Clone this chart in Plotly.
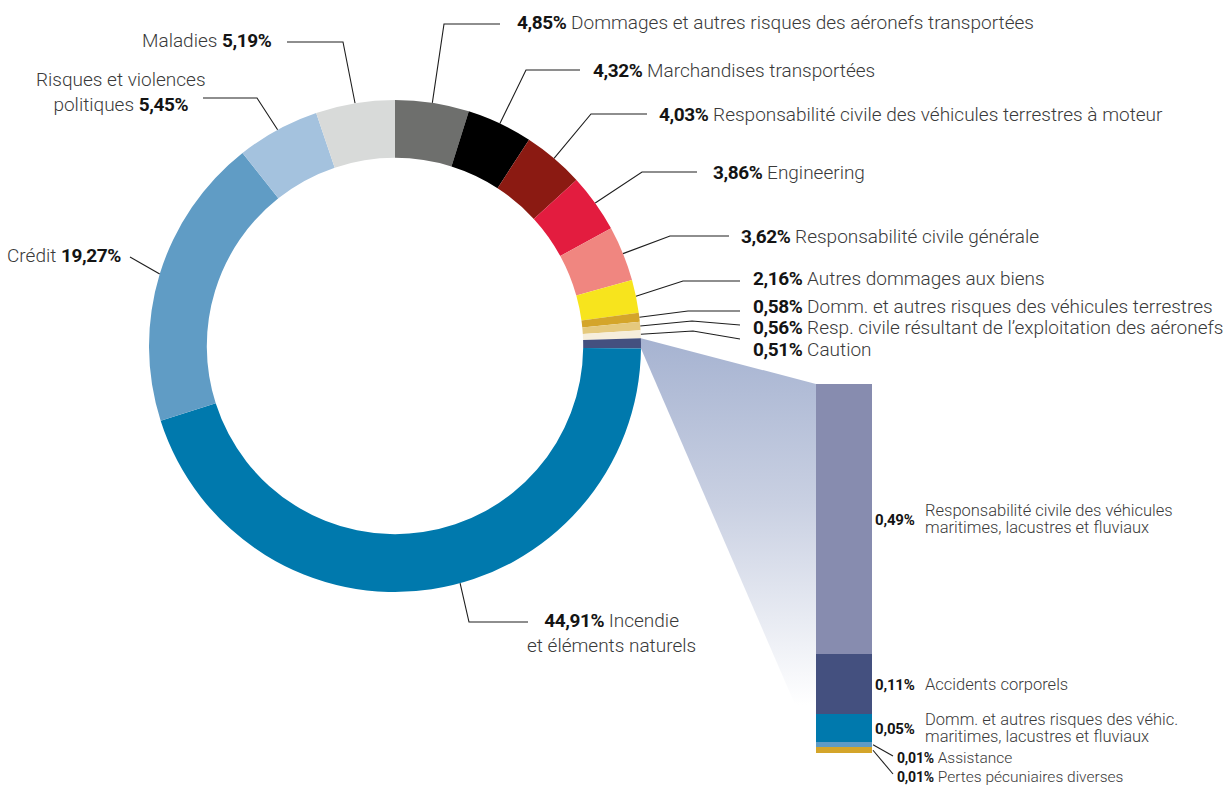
import math
import plotly.graph_objects as go

W, H = 1226, 787          # browser window = figure size (body margin removed below)

# ---------------- data ----------------
pie_labels = [
    "Dommages et autres risques des aéronefs transportées",
    "Marchandises transportées",
    "Responsabilité civile des véhicules terrestres à moteur",
    "Engineering",
    "Responsabilité civile générale",
    "Autres dommages aux biens",
    "Domm. et autres risques des véhicules terrestres",
    "Resp. civile résultant de l’exploitation des aéronefs",
    "Caution",
    "Autres",
    "Incendie et éléments naturels",
    "Crédit",
    "Risques et violences politiques",
    "Maladies",
]
main_values = [4.85, 4.32, 4.03, 3.86, 3.62, 2.16, 0.58, 0.56, 0.51, None, 44.91, 19.27, 5.45, 5.19]
pie_colors = ["#6e6f6d", "#000000", "#8b1a12", "#e31c3f", "#f08680", "#f7e41d", "#d4a52a",
              "#e5c97d", "#f6eedc", "#44507f", "#0079ad", "#609cc5", "#a4c2de", "#d8dad9"]

# detail of the "Autres" slice (bottom to top of the stacked bar)
detail_labels = [
    ["Pertes pécuniaires diverses"],
    ["Assistance"],
    ["Domm. et autres risques des véhic.", "maritimes, lacustres et fluviaux"],
    ["Accidents corporels"],
    ["Responsabilité civile des véhicules", "maritimes, lacustres et fluviaux"],
]
detail_values = [0.01, 0.01, 0.05, 0.11, 0.49]
detail_colors = ["#d4a52a", "#5f9bc5", "#0079ad", "#44507f", "#878caf"]

OTHER = 9
pie_values = [v if v is not None else round(sum(detail_values), 2) for v in main_values]

# ---------------- layout constants (page pixels) ----------------
CX, CY, R, HOLE = 395, 346, 246, 0.765
BX0, BX1, BTOP, BBOT = 816, 872, 384, 753

TXT_FONT = "Roboto, 'Open Sans', sans-serif"
TXT_COLOR = "#3a3a3a"
LINE_COLOR = "#1e1e1e"


def px_x(x):
    return x / W


def px_y(y):
    return (H - y) / H


def fmt(v):
    return f"{v:.2f}".replace(".", ",") + "%"


def num(v, size, ls=-0.4):
    return (f"<span style=\"font-family:Roboto;font-weight:bold;font-size:{size}px;"
            f"letter-spacing:{ls}px;color:#141414\">{fmt(v)}</span>")


total = sum(pie_values)
cum = [sum(pie_values[:i]) for i in range(len(pie_values))]


def ring_point(pos):
    a = math.radians(360.0 * pos / total)
    return CX + R * math.sin(a), CY - R * math.cos(a)


fig = go.Figure()

# donut
fig.add_trace(go.Pie(
    labels=pie_labels, values=pie_values, sort=False, direction="clockwise", rotation=0,
    hole=HOLE, marker=dict(colors=pie_colors, line=dict(width=0)),
    textinfo="none", hoverinfo="label+value", showlegend=False,
    domain=dict(x=[px_x(CX - R), px_x(CX + R)], y=[px_y(CY + R), px_y(CY - R)]),
))

# gradient wedge linking the "Autres" slice to the bar
p1 = ring_point(cum[OTHER])
p2 = ring_point(cum[OTHER] + pie_values[OTHER])
fig.add_trace(go.Scatter(
    x=[p1[0], BX0, BX0, p2[0], p1[0]], y=[p1[1], BTOP, BBOT, p2[1], p1[1]],
    mode="lines", line=dict(width=0), fill="toself",
    fillgradient=dict(type="vertical", start=p1[1], stop=705,
                      colorscale=[[0, "#a6b3d1"], [0.45, "#c9d0e2"], [1, "#ffffff"]]),
    hoverinfo="skip", showlegend=False, xaxis="x", yaxis="y",
))

# stacked bar
for lab, v, c in zip(detail_labels, detail_values, detail_colors):
    fig.add_trace(go.Bar(x=[0], y=[v], width=1, marker=dict(color=c, line=dict(width=0)),
                         name=" ".join(lab), xaxis="x2", yaxis="y2",
                         showlegend=False, hoverinfo="name+y"))

# leader lines for the donut: (slice, fraction in slice, elbow, end)
leaders = [
    (0, 0.5, (444, 24), (500, 24)),
    (1, 0.5, (526, 70), (580, 70)),
    (2, 0.5, (591, 114), (647, 114)),
    (3, 0.5, (642, 172), (697, 172)),
    (4, 0.5, (670, 236), (729, 236)),
    (5, 0.5, (683, 281), (740, 281)),
    (6, 0.5, (688, 311), (740, 311)),
    (7, 0.5, (692, 321), (740, 325)),
    (8, 0.5, (693, 331), (740, 339)),
    (10, 0.458, (469, 622), (528, 622)),
    (11, 0.5, (130, 257), (130, 257)),
    (12, 0.5, (257, 98), (203, 98)),
    (13, 0.5, (343, 42), (287, 42)),
]
lx, ly = [], []
for i, f, e, t in leaders:
    s = ring_point(cum[i] + f * pie_values[i])
    lx += [s[0], e[0], t[0], None]
    ly += [s[1], e[1], t[1], None]

# bar leader lines for the two smallest segments
bar_scale = (BBOT - BTOP) / sum(detail_values)


def bar_center(k):
    return BBOT - (sum(detail_values[:k]) + detail_values[k] / 2) * bar_scale


for k, ty in [(1, 756), (0, 774)]:
    lx += [BX1 + 1, 893, None]
    ly += [bar_center(k), ty, None]

fig.add_trace(go.Scatter(x=lx, y=ly, mode="lines", line=dict(color=LINE_COLOR, width=1.1),
                         hoverinfo="skip", showlegend=False, xaxis="x", yaxis="y"))

ann = []


def add(text, x, y, xanchor="left", align="left", size=19):
    ann.append(dict(text=text, x=x, y=y, xref="x", yref="y", xanchor=xanchor,
                    yanchor="middle", align=align, showarrow=False,
                    font=dict(family=TXT_FONT, size=size, color=TXT_COLOR, weight=300)))


N = 19
# right-hand labels
right_pos = {0: (515, 22), 1: (591, 70), 2: (657, 114), 3: (711, 172), 4: (739, 236),
             5: (751, 278), 6: (751, 306), 7: (751, 327), 8: (751, 349)}
for i, (x, y) in right_pos.items():
    add(f"{num(pie_values[i], N)} {pie_labels[i]}", x, y)

add(f"{num(pie_values[10], N)} Incendie<br>et éléments naturels", 611, 633, "center", "center")
add(f"Crédit {num(pie_values[11], N)}", 123, 255, "right", "right")
add(f"Risques et violences<br>politiques {num(pie_values[12], N)}", 121, 92, "center", "center")
add(f"Maladies {num(pie_values[13], N)}", 274, 40, "right", "right")

# bar labels
for k in (4, 3, 2):
    yc = bar_center(k)
    add(num(detail_values[k], 15, -0.2), 917, yc + 1, "right", "right", 15)
    lines = detail_labels[k]
    if len(lines) == 1:
        add(lines[0], 923, yc, size=16.5)
    else:
        add(lines[0], 923, yc - 8.5, size=16.5)
        add(lines[1], 923, yc + 8.5, size=16.5)
add(f"{num(detail_values[1], 14, -0.2)} {detail_labels[1][0]}", 895, 758, size=15.5)
add(f"{num(detail_values[0], 14, -0.2)} {detail_labels[0][0]}", 895, 777, size=15.5)

fig.update_layout(
    width=W, height=H, margin=dict(l=0, r=0, t=0, b=0),
    paper_bgcolor="white", plot_bgcolor="rgba(0,0,0,0)",
    barmode="stack", showlegend=False, annotations=ann,
    xaxis=dict(range=[0, W], domain=[0, 1], visible=False, fixedrange=True),
    yaxis=dict(range=[H, 0], domain=[0, 1], visible=False, fixedrange=True),
    xaxis2=dict(range=[-0.5, 0.5], domain=[px_x(BX0), px_x(BX1)], anchor="y2", visible=False,
                fixedrange=True),
    yaxis2=dict(range=[0, sum(detail_values)], domain=[px_y(BBOT), px_y(BTOP)],
                anchor="x2", visible=False, fixedrange=True),
)

fig.write_html(
    "out.html",
    config={"displayModeBar": False},
    post_script="document.body.style.margin='0';document.body.style.overflow='hidden';",
)
